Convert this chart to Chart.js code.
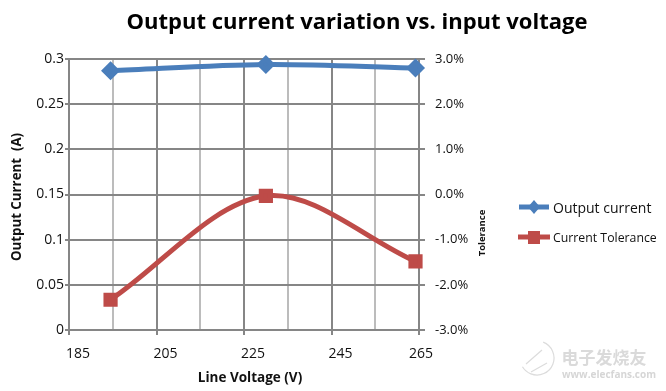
<!DOCTYPE html>
<html><head><meta charset="utf-8">
<style>html,body{margin:0;padding:0;background:#fff}canvas{display:block}</style>
<script src="https://cdn.jsdelivr.net/npm/chart.js@4"></script></head>
<body><canvas id="c" width="666" height="391"></canvas>
<script>
const voltages = [194.5, 230, 264.2];
const outputCurrent = [0.287, 0.294, 0.29];
const currentTolerance = [-2.33, -0.03, -1.48];
const seriesNames = ['Output current', 'Current Tolerance'];
const chartTitle = 'Output current variation vs. input voltage';
const F = '"Open Sans", "Noto Sans", sans-serif';
const blue = '#4a7ebb', red = '#be4b48', dark = '#868686', light = '#bcbcbc';

const overlay = {
  id: 'overlay',
  beforeDraw(chart) {
    const items = chart.scales.x.getLabelItems();
    items.filter(it => it.label === '265').forEach(it => {
      if (!it.options._moved) { it.options.translation[0] -= 7; it.options._moved = true; }
    });
  },
  afterDraw(chart) {
    const c = chart.ctx;
    const text = (s, x, y, font, color, align, rot) => {
      c.save(); c.translate(x, y); if (rot) c.rotate(rot);
      c.font = font; c.fillStyle = color; c.textAlign = align || 'center'; c.textBaseline = 'middle';
      c.fillText(s, 0, 0); c.restore();
    };
    text(chartTitle, 357, 23, 'bold 22px ' + F, '#000');
    text('Line Voltage (V)', 250, 378, 'bold 13.5px ' + F, '#111');
    text('Output Current  (A)', 17, 197, 'bold 13.3px ' + F, '#111', 'center', -Math.PI / 2);
    text('Tolerance', 482, 233, 'bold 9.5px ' + F, '#111', 'center', -Math.PI / 2);

    c.save(); c.lineWidth = 5;
    c.strokeStyle = blue; c.fillStyle = blue;
    c.beginPath(); c.moveTo(519, 207); c.lineTo(549, 207); c.stroke();
    c.beginPath(); c.moveTo(534, 200); c.lineTo(540, 207); c.lineTo(534, 214); c.lineTo(528, 207); c.fill();
    c.strokeStyle = red; c.fillStyle = red;
    c.beginPath(); c.moveTo(518, 237); c.lineTo(550, 237); c.stroke();
    c.fillRect(528, 231, 12, 13);
    c.restore();
    text(seriesNames[0], 553, 209, '14px ' + F, '#111', 'left');
    text(seriesNames[1], 553, 238, '12.3px ' + F, '#111', 'left');

    c.save(); c.strokeStyle = '#dcdcdc'; c.lineWidth = 1.2;
    c.beginPath(); c.arc(537, 358, 17, -1.2, 2.6); c.stroke();
    c.beginPath(); c.moveTo(526, 364); c.lineTo(542, 350); c.moveTo(531, 372); c.lineTo(547, 363); c.stroke();
    c.restore();
    text('电子发烧友', 604, 358, 'bold 17px "Noto Sans CJK SC"', '#dadada');
    text('www.elecfans.com', 609, 375, 'bold 10px ' + F, '#d6d6d6');
  }
};

new Chart(document.getElementById('c'), {
  type: 'line',
  data: {
    datasets: [
      { label: seriesNames[0], yAxisID: 'y', data: voltages.map((v, i) => ({ x: v, y: outputCurrent[i] })),
        borderColor: blue, backgroundColor: blue, borderWidth: 5, tension: 0.33, clip: false,
        pointStyle: 'rectRot', pointRadius: 6, pointHoverRadius: 6 },
      { label: seriesNames[1], yAxisID: 'y1', data: voltages.map((v, i) => ({ x: v, y: currentTolerance[i] })),
        borderColor: red, backgroundColor: red, borderWidth: 5, tension: 0.33, clip: false,
        pointStyle: 'rect', pointRadius: 6.5, pointHoverRadius: 6.5 }
    ]
  },
  options: {
    responsive: false, animation: false, devicePixelRatio: 1,
    layout: { padding: { left: 0, top: 59, right: 187, bottom: 0 } },
    plugins: { legend: { display: false }, title: { display: false }, tooltip: { enabled: false } },
    scales: {
      x: {
        type: 'linear', min: 185, max: 265,
        afterFit(s) { s.height = 61; },
        afterBuildTicks(s) { s.ticks = [185,195,205,215,225,235,245,255,265].map(v => ({ value: v })); },
        ticks: { autoSkip: false, maxRotation: 0, padding: 11, labelOffset: 9, color: '#111', font: { family: F, size: 14 },
          callback: v => ((v - 185) % 20 === 0 ? String(v) : '') },
        grid: { lineWidth: 2, tickLength: 5,
          color: ctx => ((ctx.tick.value - 185) % 20 === 0 ? dark : light),
          tickColor: ctx => ((ctx.tick.value - 185) % 20 === 0 ? dark : 'transparent') },
        border: { color: dark, width: 2 }
      },
      y: {
        position: 'left', min: 0, max: 0.3,
        afterFit(s) { s.width = 69; },
        afterBuildTicks(s) { s.ticks = [0,0.05,0.1,0.15,0.2,0.25,0.3].map(v => ({ value: v })); },
        ticks: { padding: 1, color: '#111', font: { family: F, size: 14 }, callback: v => String(v) },
        grid: { color: dark, lineWidth: 2, tickLength: 4 },
        border: { color: dark, width: 2 }
      },
      y1: {
        position: 'right', min: -3, max: 3,
        afterFit(s) { s.width = 60; },
        afterBuildTicks(s) { s.ticks = [-3,-2,-1,0,1,2,3].map(v => ({ value: v })); },
        ticks: { padding: 10, color: '#111', font: { family: F, size: 13 }, callback: v => v.toFixed(1) + '%' },
        grid: { drawOnChartArea: false, color: dark, lineWidth: 2, tickLength: 6 },
        border: { color: dark, width: 2 }
      }
    }
  },
  plugins: [overlay]
});
</script></body></html>
